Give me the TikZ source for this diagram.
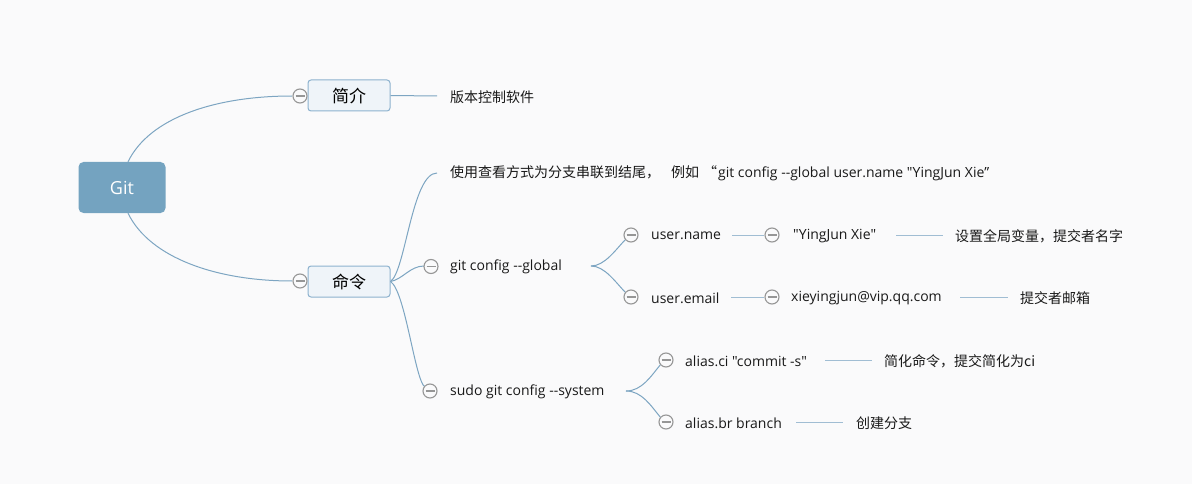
\documentclass[tikz,border=0pt]{standalone}
\usepackage{fontspec}
\setmainfont{Open Sans}[Ligatures=TeXOff]
\newfontfamily\cjk{Noto Sans CJK SC}[Ligatures=TeXOff]
\definecolor{bg}{RGB}{250,250,251}
\definecolor{linkc}{RGB}{125,165,194}
\definecolor{leafc}{RGB}{160,189,211}
\definecolor{rootfill}{RGB}{116,163,192}
\definecolor{boxfill}{RGB}{239,244,249}
\definecolor{boxdraw}{RGB}{141,178,206}
\definecolor{knobc}{RGB}{150,150,150}
\definecolor{txt}{RGB}{25,25,25}
\begin{document}
\begin{tikzpicture}[x=1pt,y=-1pt,
  rootbox/.style={rounded corners=5pt, fill=rootfill, minimum width=87pt, minimum height=51pt, text=white, font=\fontsize{18}{20}\selectfont, inner sep=0pt},
  topic/.style={rounded corners=3pt, draw=boxdraw, line width=1pt, fill=boxfill, minimum width=82pt, minimum height=31pt, text=black, font=\cjk\fontsize{17}{18}\selectfont, inner sep=0pt},
  knob/.style={circle, draw=knobc, line width=1.1pt, fill=bg, minimum size=14pt, inner sep=0pt,
    path picture={\draw[knobc, line width=1.1pt] ([xshift=-4.5pt]path picture bounding box.center) -- ([xshift=4.5pt]path picture bounding box.center);}},
  leaftext/.style={anchor=west, inner sep=0pt, text=txt, font=\fontsize{14}{16}\selectfont},
  zhtext/.style={leaftext, font=\cjk\fontsize{14}{16}\selectfont},
  conn/.style={draw=linkc, line width=1pt},
  leafline/.style={draw=leafc, line width=1pt}]
\fill[bg] (0,0) rectangle (1192,484);
\useasboundingbox (0,0) rectangle (1192,484);

% root and topics
\node[rootbox] (git) at (122,187.5) {Git};
\node[topic] (jj) at (349,95.5) {简介};
\node[topic] (ml) at (349,281.5) {命令};

% coordinates for free ends and branch points
\coordinate (e1) at (437,96);
\coordinate (e2) at (437,173);
\coordinate (bp1) at (591,266);
\coordinate (bp2) at (626,391);
\coordinate (s1) at (732,235);
\coordinate (s2) at (896,235);
\coordinate (e3) at (943,235);
\coordinate (s3) at (731,297);
\coordinate (s4) at (960,297);
\coordinate (e4) at (1008,297);
\coordinate (s5) at (825,360);
\coordinate (e5) at (872,360);
\coordinate (s6) at (796,422);
\coordinate (e6) at (843,422);

% connectors (drawn before knobs)
\path[conn] ([xshift=6pt]git.north) .. controls +(22,-45) and +(-75,0) .. (292,96) coordinate (k1w);
\path[conn] ([xshift=6pt]git.south) .. controls +(22,45) and +(-75,0) .. (292,281) coordinate (k2w);
\path[conn] (jj.east) -- (e1);
\path[conn] (ml.east) .. controls +(15,-10) and +(-25,0) .. (e2);
\path[conn] (ml.east) .. controls +(12,-2) and +(-14,0) .. (424,266) coordinate (k3w);
\path[conn] (ml.east) .. controls +(15,10) and +(-10,-6) .. (425,387) coordinate (k4w);
\path[conn] (bp1) .. controls +(14,0) and +(-10,10) .. (626,239) coordinate (k5w);
\path[conn] (bp1) .. controls +(14,0) and +(-10,-10) .. (626,293) coordinate (k6w);
\path[conn] (bp2) .. controls +(16,0) and +(-10,12) .. (661,364) coordinate (k7w);
\path[conn] (bp2) .. controls +(16,0) and +(-10,-12) .. (661,418) coordinate (k8w);

% knobs
\node[knob] (kjj) at (300,96) {};
\node[knob] (kml) at (300,281) {};
\node[knob] (kgc) at (431,266.5) {};
\node[knob] (ksu) at (430,391) {};
\node[knob] (kun) at (631,235) {};
\node[knob] (kue) at (631,297) {};
\node[knob] (kyn) at (772,235) {};
\node[knob] (kem) at (772,297) {};
\node[knob] (kci) at (666,360) {};
\node[knob] (kbr) at (666,422) {};

% leaf lines
\path[leafline] (s1) -- (kyn.west);
\path[leafline] (s2) -- (e3);
\path[leafline] (s3) -- (kem.west);
\path[leafline] (s4) -- (e4);
\path[leafline] (s5) -- (e5);
\path[leafline] (s6) -- (e6);

% texts
\node[zhtext] (t1) at (450,97) {版本控制软件};
\node[leaftext] (t2) at (450,173) {\makebox[268pt][l]{\cjk 使用查看方式为分支串联到结尾\makebox[25pt][l]{，}例如\hfill“\hspace{1pt}}git config --global user.name "YingJun Xie”};
\node[leaftext] (t3) at (450,267) {git config --global};
\node[leaftext] (t4) at (450,392) {sudo git config --system};
\node[leaftext] (t5) at (651,236) {user.name};
\node[leaftext] (t6) at (651,298) {user.email};
\node[leaftext] (t7) at (793,236) {"YingJun Xie"};
\node[leaftext] (t8) at (791,298) {xieyingjun@vip.qq.com};
\node[zhtext] (t9) at (955,236) {设置全局变量，提交者名字};
\node[zhtext] (t10) at (1020,298) {提交者邮箱};
\node[leaftext] (t11) at (685,361) {alias.ci "commit -s"};
\node[leaftext] (t12) at (685,423) {alias.br branch};
\node[zhtext] (t13) at (884,361) {简化命令，提交简化为ci};
\node[zhtext] (t14) at (856,423) {创建分支};
\end{tikzpicture}
\end{document}
